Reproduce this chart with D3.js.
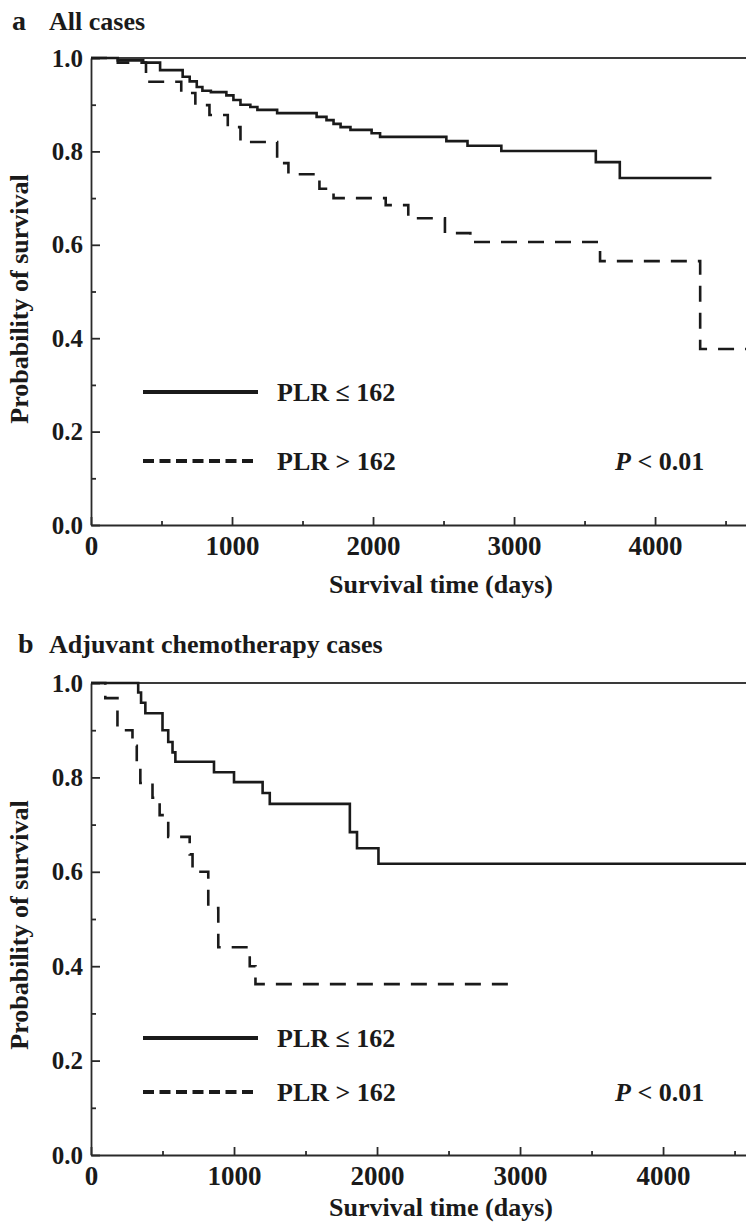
<!DOCTYPE html>
<html lang="en">
<head>
  <meta charset="UTF-8" />
  <title>PLR survival curves</title>
  <style>
    body, html { margin: 0; padding: 0; background: white; }
    svg text { font-family: "Liberation Serif", "Times New Roman", serif; font-weight: bold; fill: #1a1a1a; }
    .axis path, .axis line { stroke: #2a2a2a; stroke-width: 1.8; }
    .axis text { font-size: 25px; font-family: "Liberation Serif", "Times New Roman", serif; }
    .axis.xa text { font-size: 27px; }
  </style>
</head>
<body>
  <svg id="chart" width="746" height="1226"></svg>
  <script src="https://cdn.jsdelivr.net/npm/d3@7/dist/d3.min.js"></script>
  <script>
    // panel a - all cases
    const aLowTime = [0, 190, 370, 490, 650, 700, 750, 790, 850, 960, 1010, 1060, 1130, 1180, 1320, 1600, 1670, 1720, 1770, 1840, 1990, 2050, 2520, 2670, 2910, 3580, 3750, 4400];
    const aLowSurv = [1.0, 0.995, 0.99, 0.974, 0.96, 0.95, 0.938, 0.93, 0.927, 0.92, 0.91, 0.90, 0.895, 0.889, 0.882, 0.874, 0.867, 0.859, 0.852, 0.846, 0.839, 0.831, 0.822, 0.812, 0.801, 0.777, 0.743, 0.743];
    const aHighTime = [0, 190, 390, 640, 740, 840, 970, 1060, 1320, 1400, 1620, 1720, 2090, 2250, 2510, 2690, 3610, 4320, 4650];
    const aHighSurv = [1.0, 0.99, 0.949, 0.925, 0.899, 0.878, 0.852, 0.82, 0.775, 0.751, 0.72, 0.70, 0.685, 0.657, 0.625, 0.606, 0.565, 0.377, 0.377];

    // panel b - adjuvant chemotherapy cases
    const bLowTime = [0, 330, 350, 380, 500, 540, 570, 590, 860, 1000, 1200, 1250, 1810, 1860, 2010, 4580];
    const bLowSurv = [1.0, 0.98, 0.958, 0.936, 0.90, 0.875, 0.853, 0.833, 0.811, 0.79, 0.767, 0.744, 0.684, 0.65, 0.617, 0.617];
    const bHighTime = [0, 100, 185, 290, 320, 345, 430, 480, 540, 690, 710, 820, 890, 1110, 1150, 2920];
    const bHighSurv = [1.0, 0.968, 0.90, 0.867, 0.82, 0.788, 0.757, 0.72, 0.674, 0.637, 0.60, 0.523, 0.44, 0.40, 0.362, 0.362];

    const xTicks = [0, 1000, 2000, 3000, 4000];
    const xMinor = [500, 1500, 2500, 3500, 4500];
    const yTicks = [0, 0.2, 0.4, 0.6, 0.8, 1.0];
    const yMinor = [0.1, 0.3, 0.5, 0.7, 0.9];
    const legendLabels = ["PLR \u2264 162", "PLR > 162"];

    const svg = d3.select("#chart");

    function zip(t, s) {
      return t.map((d, i) => ({ t: d, s: s[i] }));
    }

    function panel(p) {
      const g = svg.append("g");
      const x = d3.scaleLinear().domain([0, p.xMax]).range([91, 746]);
      const y = d3.scaleLinear().domain([0, 1]).range([p.bottom, p.top]);

      // titles
      g.append("text").attr("x", p.letterX).attr("y", p.titleY)
        .style("font-size", "28px").text(p.letter);
      g.append("text").attr("x", 49).attr("y", p.titleY)
        .style("font-size", "26px").text(p.title);

      // top frame line
      g.append("line")
        .attr("x1", x(0)).attr("x2", 746)
        .attr("y1", y(1)).attr("y2", y(1))
        .attr("stroke", "#3a3a3a").attr("stroke-width", 1.8);

      // minor ticks first
      g.append("g").attr("class", "axis")
        .attr("transform", "translate(0," + p.bottom + ")")
        .call(d3.axisBottom(x).tickValues(xMinor).tickSize(-4).tickFormat(""))
        .select(".domain").remove();
      g.append("g").attr("class", "axis")
        .attr("transform", "translate(91,0)")
        .call(d3.axisLeft(y).tickValues(yMinor).tickSize(-5).tickFormat(""))
        .select(".domain").remove();

      g.append("g").attr("class", "axis xa")
        .attr("transform", "translate(0," + p.bottom + ")")
        .call(d3.axisBottom(x).tickValues(xTicks).tickSizeInner(-8).tickSizeOuter(0).tickPadding(11)
          .tickFormat(d3.format("d")));
      g.append("g").attr("class", "axis")
        .attr("transform", "translate(91,0)")
        .call(d3.axisLeft(y).tickValues(yTicks).tickSizeInner(-9).tickSizeOuter(0).tickPadding(8)
          .tickFormat(d3.format(".1f")));

      // axis titles
      g.append("text")
        .attr("x", 441).attr("y", p.bottom + p.xTitleOff)
        .attr("text-anchor", "middle").style("font-size", "26px")
        .text("Survival time (days)");
      g.append("text")
        .attr("transform", "translate(28," + p.yTitleMid + ") rotate(-90)")
        .attr("text-anchor", "middle").style("font-size", "26px")
        .text("Probability of survival");

      const line = d3.line()
        .x(d => x(d.t))
        .y(d => y(d.s))
        .curve(d3.curveStepAfter);

      g.append("path")
        .datum(zip(p.lowT, p.lowS))
        .attr("d", line)
        .attr("fill", "none").attr("stroke", "#1a1a1a").attr("stroke-width", 2.6);
      g.append("path")
        .datum(zip(p.highT, p.highS))
        .attr("d", line)
        .attr("fill", "none").attr("stroke", "#1a1a1a").attr("stroke-width", 2.6)
        .attr("stroke-dasharray", "16,11");

      // legend
      const leg = g.append("g");
      p.legY.forEach((ly, i) => {
        leg.append("line")
          .attr("x1", 143).attr("x2", 258)
          .attr("y1", ly).attr("y2", ly)
          .attr("stroke", "#1a1a1a").attr("stroke-width", 4)
          .attr("stroke-dasharray", i === 1 ? "11,5.5" : null);
        leg.append("text")
          .attr("x", 277).attr("y", ly + 9)
          .style("font-size", "26px")
          .text(legendLabels[i]);
      });
      const pt = leg.append("text")
        .attr("x", 615).attr("y", p.legY[1] + 9)
        .style("font-size", "26px");
      pt.append("tspan").style("font-style", "italic").text("P");
      pt.append("tspan").text(" < 0.01");
    }

    panel({
      letter: "a", letterX: 12, title: "All cases", titleY: 30,
      top: 58, bottom: 525, xMax: 4645,
      xTitleOff: 68, yTitleMid: 299,
      lowT: aLowTime, lowS: aLowSurv, highT: aHighTime, highS: aHighSurv,
      legY: [392, 461]
    });

    panel({
      letter: "b", letterX: 18, title: "Adjuvant chemotherapy cases", titleY: 653,
      top: 683, bottom: 1155, xMax: 4580,
      xTitleOff: 61, yTitleMid: 925,
      lowT: bLowTime, lowS: bLowSurv, highT: bHighTime, highS: bHighSurv,
      legY: [1038, 1092]
    });
  </script>
</body>
</html>
